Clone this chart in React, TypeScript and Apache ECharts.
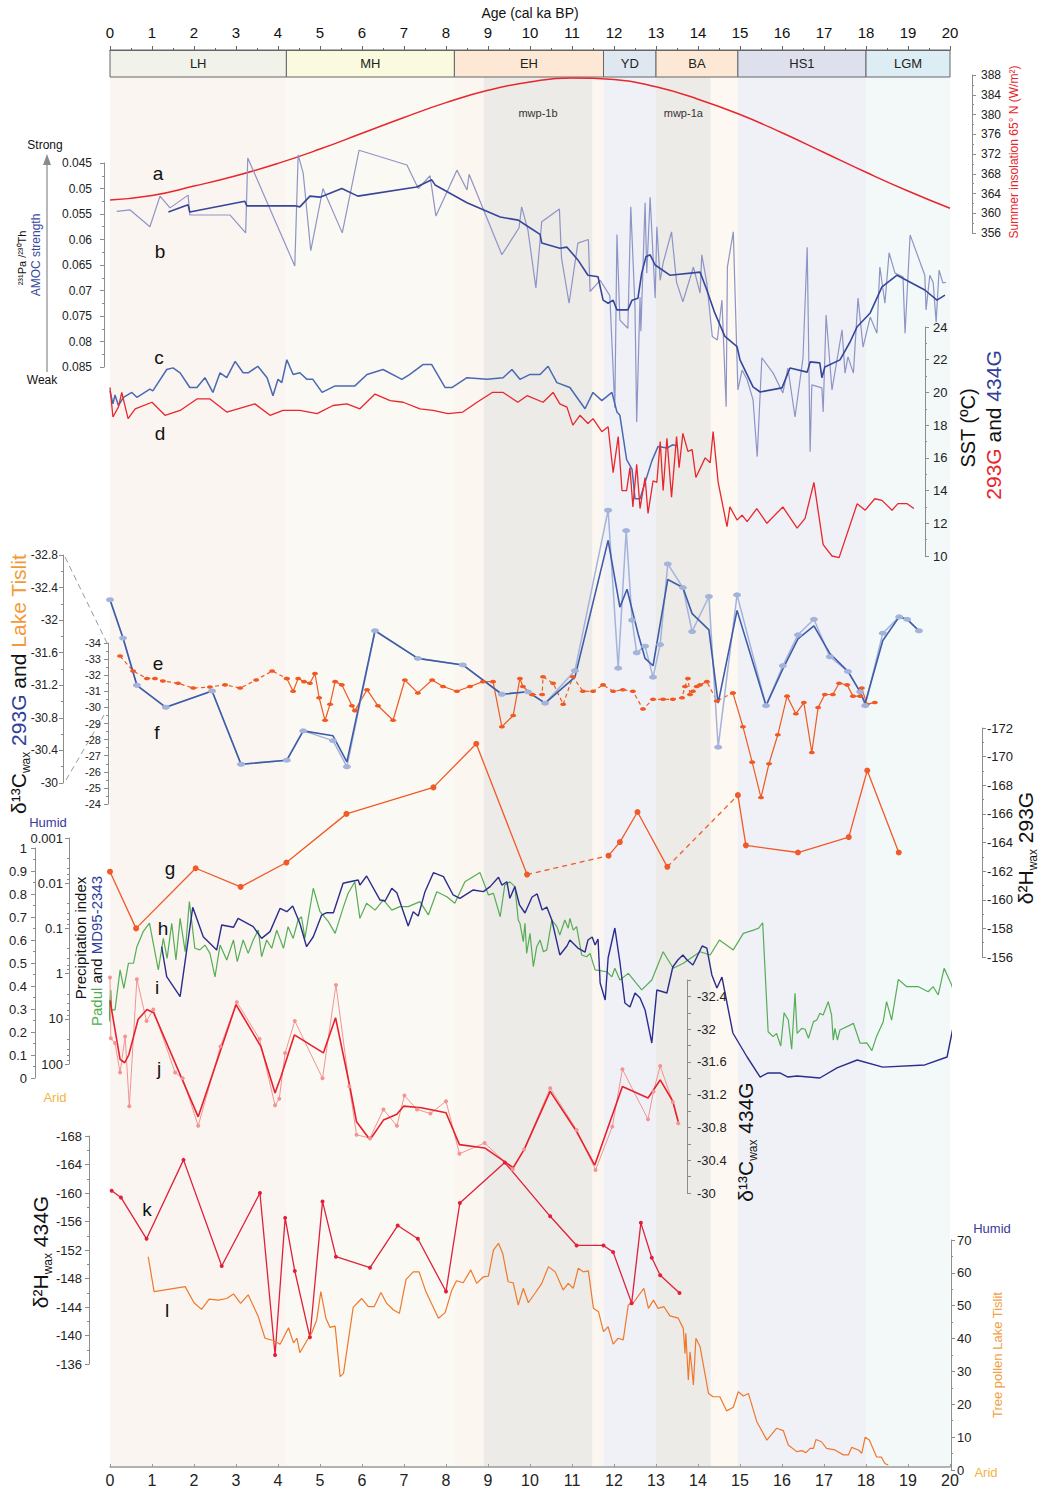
import React, { useEffect, useRef } from "react";
import * as echarts from "echarts";

const FONT = "'Liberation Sans', Arial, Helvetica, sans-serif";

// ---- climatic periods (ka BP) ----
const periodNames = ["LH", "MH", "EH", "YD", "BA", "HS1", "LGM"];
const periodBounds = [0, 4.2, 8.2, 11.75, 13.0, 14.95, 18.0, 20];
const pulseNames = ["mwp-1b", "mwp-1a"];
const pulseSpans = [
  [8.9, 11.48],
  [13.0, 14.3],
];

// a: summer insolation 65°N (W/m²)
const insolation = [
  [0, 362.7], [1, 363.6], [2, 365.5], [3, 367.6], [4, 370.1], [5, 373.0], [6, 376.2], [7, 379.4],
  [8, 382.4], [9, 384.9], [10, 386.6], [11, 387.4], [12, 387.1], [13, 385.6], [14, 383.1],
  [15, 380.0], [16, 376.3], [17, 372.3], [18, 368.3], [19, 364.5], [20, 361.0],
];

// b: 231Pa/230Th, raw record
const paThRaw = [
  [0.16, 0.0545], [0.48, 0.0542], [0.95, 0.0575], [1.19, 0.0515], [1.43, 0.0538], [1.86, 0.0513], [1.9, 0.0552],
  [2.86, 0.0552], [3.23, 0.0587], [3.28, 0.044], [4.4, 0.0652], [4.48, 0.0434], [4.6, 0.047], [4.78, 0.0622],
  [5.07, 0.05], [5.53, 0.0587], [5.93, 0.0425], [7.07, 0.0454], [7.34, 0.05], [7.62, 0.0475], [7.76, 0.0554],
  [8.26, 0.0464], [8.5, 0.0503], [8.55, 0.0472], [9.33, 0.063], [9.74, 0.0577], [9.8, 0.0536], [9.95, 0.0581],
  [10.14, 0.0695], [10.28, 0.0565], [10.7, 0.054], [10.75, 0.0636], [10.93, 0.0725], [11.14, 0.0607], [11.39, 0.06],
  [11.43, 0.0702], [11.67, 0.068], [11.9, 0.071], [12.02, 0.093], [12.07, 0.059], [12.14, 0.0758], [12.33, 0.0774],
  [12.4, 0.0536], [12.5, 0.0734], [12.54, 0.0958], [12.62, 0.0713], [12.64, 0.078], [12.74, 0.0528], [12.78, 0.0666],
  [12.86, 0.0517], [12.98, 0.0715], [13.02, 0.0575], [13.1, 0.068], [13.17, 0.0646], [13.37, 0.0585], [13.49, 0.0684],
  [13.64, 0.0722], [13.89, 0.0654], [14.05, 0.0705], [14.09, 0.063], [14.21, 0.0685], [14.34, 0.079], [14.46, 0.0797],
  [14.57, 0.0719], [14.67, 0.0928], [14.7, 0.0654], [14.84, 0.0585], [14.95, 0.0895], [15.05, 0.0856], [15.17, 0.0875],
  [15.31, 0.0914], [15.41, 0.1026], [15.52, 0.0832], [15.79, 0.0862], [16.02, 0.0901], [16.14, 0.0852], [16.31, 0.0948],
  [16.5, 0.0832], [16.6, 0.0615], [16.67, 0.1016], [16.71, 0.0885], [16.95, 0.0891], [16.98, 0.0938], [17.05, 0.0748],
  [17.19, 0.0895], [17.43, 0.0777], [17.5, 0.0862], [17.57, 0.083], [17.7, 0.0862], [17.81, 0.0715], [17.93, 0.0811],
  [18.1, 0.0752], [18.26, 0.0784], [18.33, 0.0654], [18.45, 0.0725], [18.55, 0.0626], [18.69, 0.0666], [18.88, 0.0673],
  [18.93, 0.0784], [19.05, 0.0591], [19.4, 0.067], [19.43, 0.0738], [19.52, 0.067], [19.6, 0.0685], [19.67, 0.0762],
  [19.74, 0.066], [19.83, 0.0685], [19.9, 0.0684],
];

// b: 231Pa/230Th, smoothed record
const paThSmooth = [
  [1.39, 0.0546], [1.86, 0.0532], [1.9, 0.0546], [3.21, 0.0525], [3.26, 0.0534], [4.4, 0.0534], [4.52, 0.0536],
  [4.76, 0.0515], [5.0, 0.0517], [5.52, 0.05], [5.9, 0.0515], [7.3, 0.0497], [7.66, 0.0483], [7.74, 0.0493],
  [8.5, 0.0528], [9.29, 0.0556], [9.72, 0.0562], [9.96, 0.0575], [10.24, 0.059], [10.28, 0.0607], [10.71, 0.0617],
  [10.88, 0.0615], [11.14, 0.064], [11.38, 0.067], [11.62, 0.0673], [11.74, 0.0719], [11.86, 0.0725], [11.98, 0.0719],
  [12.07, 0.0738], [12.33, 0.0738], [12.43, 0.0719], [12.57, 0.0715], [12.66, 0.0666], [12.76, 0.0634], [12.86, 0.063],
  [12.98, 0.065], [13.33, 0.067], [14.05, 0.0664], [14.21, 0.0699], [14.4, 0.0744], [14.64, 0.079], [14.93, 0.081],
  [15.0, 0.0836], [15.31, 0.0889], [15.48, 0.0899], [16.0, 0.0891], [16.19, 0.0852], [16.6, 0.086], [16.67, 0.084],
  [16.9, 0.0842], [16.95, 0.0871], [17.02, 0.085], [17.38, 0.0836], [17.62, 0.0801], [17.79, 0.0771], [18.1, 0.0744],
  [18.38, 0.0693], [18.74, 0.067], [19.4, 0.0699], [19.69, 0.0719], [19.88, 0.0709],
];

// c: SST 434G (°C)
const sst434 = [
  [0, 20.1], [0.07, 19.3], [0.12, 19.84], [0.2, 19.2], [0.32, 19.7], [0.52, 20.0], [0.64, 19.7], [0.95, 20.2],
  [1.02, 20.1], [1.35, 21.4], [1.5, 21.5], [1.67, 21.2], [1.9, 20.3], [2.07, 20.3], [2.26, 20.9], [2.45, 20.0],
  [2.62, 21.2], [2.78, 20.9], [2.98, 21.9], [3.17, 21.2], [3.29, 21.2], [3.52, 21.6], [3.74, 20.9], [3.88, 19.8],
  [4.0, 20.8], [4.09, 20.6], [4.21, 22.0], [4.36, 21.1], [4.52, 21.2], [4.69, 20.8], [4.83, 20.8], [5.05, 20.0],
  [5.36, 20.4], [5.83, 20.4], [6.12, 21.1], [6.5, 21.4], [6.95, 20.8], [7.14, 21.1], [7.45, 21.7], [7.66, 21.7],
  [7.98, 20.3], [8.14, 20.3], [8.5, 20.9], [8.98, 20.8], [9.36, 20.9], [9.57, 21.4], [9.76, 20.8], [10.0, 21.1],
  [10.24, 21.1], [10.43, 21.6], [10.64, 20.6], [10.95, 20.3], [11.31, 19.0], [11.5, 20.0], [11.71, 19.5],
  [11.95, 20.0], [12.07, 18.8], [12.14, 18.6], [12.3, 15.9], [12.43, 15.3], [12.5, 13.5], [12.62, 13.5],
  [12.74, 14.5], [12.9, 15.8], [13.05, 16.7], [13.26, 16.6], [13.4, 16.8], [13.52, 16.7],
];

// d: SST 293G (°C)
const sst293 = [
  [0, 20.3], [0.07, 18.5], [0.2, 19.1], [0.28, 20.0], [0.43, 18.4], [0.6, 19.0], [1.0, 19.4], [1.31, 18.6],
  [1.67, 18.9], [2.07, 19.6], [2.38, 19.6], [2.78, 18.8], [3.45, 19.3], [3.81, 18.6], [4.12, 18.9], [4.52, 18.9],
  [4.93, 18.7], [5.31, 19.2], [5.64, 19.3], [5.95, 19.0], [6.31, 19.9], [6.67, 19.5], [6.98, 19.4], [7.38, 19.0],
  [7.69, 18.9], [8.05, 18.7], [8.4, 18.8], [8.74, 19.4], [9.1, 20.0], [9.36, 20.0], [9.71, 19.4], [9.93, 19.8],
  [10.31, 19.4], [10.55, 20.0], [10.71, 19.3], [10.88, 19.1], [11.02, 18.0], [11.19, 18.6], [11.38, 18.1],
  [11.5, 18.4], [11.71, 17.6], [11.86, 17.9], [11.98, 15.1], [12.1, 17.3], [12.19, 14.0], [12.3, 14.0],
  [12.38, 15.4], [12.45, 13.0], [12.54, 15.6], [12.62, 12.9], [12.74, 14.8], [12.81, 12.6], [12.93, 14.6],
  [13.02, 14.5], [13.1, 17.0], [13.17, 14.0], [13.26, 17.2], [13.37, 13.6], [13.49, 17.3], [13.55, 15.4],
  [13.64, 17.5], [13.76, 16.4], [13.86, 16.5], [13.95, 14.8], [14.17, 16.0], [14.29, 15.7], [14.36, 17.6],
  [14.48, 14.5], [14.69, 11.8], [14.76, 13.0], [14.93, 12.2], [15.05, 12.5], [15.17, 12.1], [15.4, 12.9],
  [15.64, 12.0], [16.02, 13.0], [16.36, 11.7], [16.55, 12.3], [16.76, 14.5], [16.98, 10.7], [17.19, 10.0],
  [17.36, 9.9], [17.79, 13.2], [17.98, 12.8], [18.21, 13.5], [18.38, 13.4], [18.62, 12.8], [18.76, 13.2],
  [18.98, 13.2], [19.14, 12.9],
];

// e: δ13C Lake Tislit, in four runs (dashed / solid)
const tislitC1 = [
  [0.24, -33.19], [0.55, -32.26], [0.88, -31.8], [1.07, -31.8], [1.26, -31.64], [1.62, -31.5], [1.98, -31.2],
  [2.38, -31.27], [2.74, -31.4], [3.1, -31.2], [3.48, -31.7], [3.86, -32.26], [4.21, -31.8],
];
const tislitC2 = [
  [4.21, -31.8], [4.36, -31.0], [4.48, -31.8], [4.62, -31.6], [4.76, -31.5], [4.88, -32.1], [4.98, -30.6],
  [5.12, -29.2], [5.24, -30.2], [5.36, -31.6], [5.52, -31.4], [5.76, -30.1], [5.83, -29.8], [6.12, -31.1],
  [6.38, -30.1], [6.74, -29.2], [7.02, -31.7], [7.33, -30.9], [7.67, -31.7], [7.93, -31.3], [8.26, -31.0],
  [8.57, -31.3], [8.88, -31.6], [9.12, -31.6], [9.33, -28.8], [9.6, -29.5], [9.76, -31.8], [9.83, -31.3],
  [10.05, -30.8],
];
const tislitC3 = [
  [10.05, -30.8], [10.29, -30.8], [10.31, -31.9], [10.55, -31.5], [10.79, -30.2], [11.02, -31.9], [11.26, -31.0],
  [11.5, -31.0], [11.74, -31.4], [11.98, -31.0], [12.21, -31.1], [12.45, -31.0], [12.69, -29.9], [12.93, -30.5],
  [13.17, -30.5], [13.4, -30.5], [13.62, -30.6], [13.69, -31.3], [13.76, -31.8], [13.81, -30.8], [13.88, -31.0],
  [13.97, -31.3], [14.05, -31.4], [14.21, -31.6], [14.45, -30.4], [14.83, -30.9],
];
const tislitC4 = [
  [14.83, -30.9], [15.07, -28.8], [15.29, -26.6], [15.5, -24.4], [15.69, -26.5], [15.9, -28.3], [16.12, -30.7],
  [16.33, -29.6], [16.52, -30.3], [16.71, -27.2], [16.86, -30.0], [17.02, -30.8], [17.21, -30.8], [17.36, -31.5],
  [17.55, -31.4], [17.69, -30.7], [17.86, -30.7], [17.9, -31.2], [18.02, -30.2], [18.21, -30.3],
];

// f: δ13Cwax 293G, individual measurements and mean
const c293Points = [
  [0, -32.25], [0.31, -31.78], [0.64, -31.2], [1.33, -30.93], [2.43, -31.13], [3.12, -30.23], [4.21, -30.28],
  [4.6, -30.64], [5.31, -30.52], [5.64, -30.2], [6.31, -31.87], [7.33, -31.53], [8.4, -31.45], [9.33, -31.09],
  [9.95, -31.12], [10.36, -30.98], [11.07, -31.38], [11.86, -33.35], [12.1, -31.41], [12.29, -33.1], [12.43, -32.0],
  [12.54, -31.6], [12.74, -31.68], [12.93, -31.3], [13.1, -31.7], [13.28, -32.69], [13.64, -32.4], [13.86, -31.86],
  [14.26, -32.29], [14.48, -30.44], [14.93, -32.31], [15.62, -30.95], [16.02, -31.44], [16.38, -31.82],
  [16.76, -32.01], [17.14, -31.55], [17.57, -31.37], [17.86, -31.12], [17.98, -30.95], [18.4, -31.84],
  [18.79, -32.04], [18.98, -32.01], [19.26, -31.87],
];
const c293Mean = [
  [0, -32.25], [0.31, -31.78], [0.64, -31.2], [1.33, -30.93], [2.43, -31.13], [3.12, -30.23], [4.21, -30.28],
  [4.6, -30.64], [5.31, -30.58], [5.64, -30.26], [6.31, -31.87], [7.33, -31.53], [8.4, -31.45], [9.33, -31.09],
  [9.95, -31.12], [10.36, -30.98], [11.07, -31.3], [11.86, -32.98], [12.14, -32.16], [12.31, -32.38],
  [12.57, -31.84], [12.74, -31.53], [12.93, -31.44], [13.28, -32.5], [13.64, -32.4], [13.86, -32.08],
  [14.26, -31.88], [14.48, -30.98], [14.93, -32.12], [15.62, -30.95], [16.02, -31.4], [16.38, -31.77],
  [16.76, -31.93], [17.14, -31.59], [17.57, -31.37], [17.86, -31.12], [17.98, -30.98], [18.4, -31.75],
  [18.79, -32.04], [18.98, -32.01], [19.26, -31.87],
];

// g: δ2Hwax 293G, runs joined by solid and dashed lines
const h293A = [
  [0, -161.96], [0.62, -158.0], [2.04, -162.2], [3.11, -160.9], [4.2, -162.6], [5.63, -166.0], [7.7, -167.85],
  [8.72, -170.9], [9.93, -161.76],
];
const h293Gap1 = [[9.93, -161.76], [11.87, -163.08]];
const h293B = [[11.87, -163.08], [12.14, -164.03], [12.56, -166.13], [13.27, -162.3]];
const h293Gap2 = [[13.27, -162.3], [14.95, -167.31]];
const h293C = [
  [14.95, -167.31], [15.14, -163.8], [16.38, -163.3], [17.59, -164.38], [18.03, -169.03], [18.78, -163.3],
];

// h: precipitation index MD95-2343 (log scale)
const precipMD = [
  [1.23, 0.254], [1.35, 1.17], [1.67, 3.24], [1.97, 0.0341], [2.22, 0.153], [2.54, 0.301], [2.66, 0.0841],
  [2.94, 0.0946], [3.05, 0.0598], [3.41, 0.0916], [3.61, 0.166], [3.81, 0.118], [4.05, 0.0359], [4.21, 0.0428],
  [4.35, 0.0319], [4.52, 0.0771], [4.68, 0.254], [4.84, 0.153], [5.04, 0.0506], [5.16, 0.045], [5.32, 0.045],
  [5.55, 0.01], [5.71, 0.00927], [5.91, 0.0085], [5.95, 0.011], [6.11, 0.00693], [6.43, 0.0236], [6.55, 0.0248],
  [6.71, 0.013], [6.83, 0.0162], [7.1, 0.0885], [7.22, 0.0428], [7.34, 0.0532], [7.5, 0.0154], [7.7, 0.00586],
  [7.94, 0.00718], [8.17, 0.0182], [8.33, 0.0216], [8.65, 0.0141], [8.89, 0.0154], [9.05, 0.0119], [9.25, 0.0074],
  [9.33, 0.011], [9.45, 0.00927], [9.52, 0.0216], [9.64, 0.0119], [9.75, 0.0303], [9.88, 0.0456], [10.05, 0.0202],
  [10.17, 0.0173], [10.29, 0.0392], [10.4, 0.0337], [10.52, 0.0652], [10.71, 0.387], [10.88, 0.245], [10.95, 0.181],
  [11.14, 0.272], [11.31, 0.333], [11.38, 0.181], [11.48, 0.155], [11.55, 0.233], [11.62, 0.172], [11.67, 1.61],
  [11.79, 3.84], [11.86, 0.452], [12.02, 0.098], [12.14, 0.553], [12.26, 4.47], [12.38, 5.48], [12.5, 2.69],
  [12.62, 3.47], [12.74, 6.38], [12.9, 34.3], [13.02, 2.31], [13.26, 2.69], [13.4, 0.715], [13.52, 0.5],
  [13.64, 0.387], [13.74, 0.5], [13.88, 0.646], [14.1, 0.245], [14.21, 0.272], [14.33, 1.07], [14.45, 2.08],
  [14.57, 1.19], [14.83, 20.6], [15.17, 70], [15.48, 194], [15.67, 158], [15.95, 158], [16.14, 194], [16.36, 184],
  [16.9, 204], [17.31, 122], [17.79, 81.6], [18.4, 117], [19.4, 105], [19.93, 70], [20.6, 0.0589],
];

// i: Padul precipitation index (0-1)
const precipPadul = [
  [-0.1, 0.462], [-0.07, 0.33], [-0.04, 0.426], [-0.02, 0.245], [0.02, 0.383], [0.04, 0.296], [0.12, 0.296],
  [0.24, 0.47], [0.33, 0.39], [0.44, 0.499], [0.56, 0.499], [0.64, 0.571], [0.79, 0.636], [0.94, 0.673],
  [1.15, 0.47], [1.27, 0.607], [1.36, 0.52], [1.47, 0.673], [1.57, 0.513], [1.67, 0.694], [1.79, 0.549],
  [1.89, 0.767], [2.02, 0.564], [2.14, 0.557], [2.26, 0.578], [2.38, 0.542], [2.5, 0.44], [2.62, 0.578],
  [2.78, 0.513], [2.94, 0.6], [3.03, 0.506], [3.17, 0.6], [3.29, 0.542], [3.41, 0.6], [3.53, 0.643], [3.61, 0.527],
  [3.73, 0.6], [3.85, 0.564], [3.97, 0.643], [4.13, 0.564], [4.24, 0.658], [4.36, 0.607], [4.48, 0.687],
  [4.56, 0.701], [4.64, 0.607], [4.84, 0.825], [5.0, 0.723], [5.2, 0.68], [5.36, 0.629], [5.56, 0.745],
  [5.67, 0.803], [5.83, 0.853], [5.95, 0.694], [6.11, 0.76], [6.31, 0.73], [6.51, 0.774], [6.71, 0.73],
  [6.9, 0.745], [7.1, 0.745], [7.38, 0.767], [7.58, 0.709], [7.78, 0.81], [8.02, 0.788], [8.21, 0.76],
  [8.45, 0.853], [8.81, 0.893], [9.01, 0.796], [9.13, 0.803], [9.29, 0.701], [9.4, 0.839], [9.52, 0.853],
  [9.64, 0.832], [9.72, 0.687], [9.76, 0.673], [9.84, 0.593], [9.88, 0.673], [9.92, 0.542], [10.0, 0.629],
  [10.08, 0.484], [10.16, 0.571], [10.24, 0.6], [10.32, 0.549], [10.4, 0.557], [10.52, 0.687], [10.64, 0.658],
  [10.71, 0.622], [10.83, 0.687], [10.91, 0.651], [10.95, 0.694], [11.03, 0.643], [11.11, 0.658], [11.23, 0.535],
  [11.35, 0.527], [11.43, 0.542], [11.55, 0.47], [11.83, 0.462], [11.95, 0.44], [12.02, 0.477], [12.14, 0.426],
  [12.34, 0.455], [12.66, 0.383], [12.9, 0.426], [13.17, 0.549], [13.41, 0.477], [13.65, 0.499], [14.05, 0.549],
  [14.29, 0.535], [14.51, 0.6], [14.84, 0.557], [15.08, 0.629], [15.32, 0.643], [15.44, 0.651], [15.54, 0.675],
  [15.67, 0.201], [15.79, 0.18], [15.87, 0.194], [15.97, 0.139], [16.05, 0.284], [16.15, 0.252], [16.23, 0.125],
  [16.31, 0.368], [16.36, 0.194], [16.47, 0.216], [16.55, 0.212], [16.63, 0.173], [16.75, 0.245], [16.83, 0.252],
  [16.9, 0.281], [16.98, 0.274], [17.1, 0.332], [17.18, 0.274], [17.22, 0.165], [17.26, 0.216], [17.32, 0.165],
  [17.38, 0.209], [17.62, 0.23], [17.7, 0.238], [17.86, 0.151], [18.02, 0.153], [18.14, 0.119], [18.25, 0.18],
  [18.41, 0.245], [18.49, 0.332], [18.61, 0.252], [18.77, 0.429], [18.97, 0.397], [19.25, 0.397], [19.48, 0.375],
  [19.6, 0.397], [19.72, 0.361], [19.86, 0.477], [20.04, 0.404], [20.16, 0.325], [20.25, 0.371], [20.33, 0.288],
];

// j: δ13Cwax 434G, mean and individual measurements
const c434Mean = [
  [0, -32.35], [0.24, -31.63], [0.35, -31.59], [0.45, -31.69], [0.67, -32.12], [0.88, -32.24], [1.04, -32.2],
  [2.1, -30.93], [3.0, -32.3], [3.59, -31.79], [3.93, -31.22], [4.07, -31.42], [4.39, -31.93], [5.08, -31.71],
  [5.37, -32.14], [5.71, -31.3], [5.87, -30.87], [6.19, -30.65], [6.51, -30.89], [6.83, -30.96], [6.99, -31.06],
  [7.41, -31.04], [8.0, -30.98], [8.32, -30.59], [8.92, -30.55], [9.6, -30.31], [9.86, -30.53], [10.48, -31.24],
  [11.11, -30.75], [11.54, -30.34], [12.2, -31.3], [12.81, -31.16], [13.1, -31.38], [13.4, -31.12], [13.53, -30.87],
];
const c434Points = [
  [0, -32.63], [0.02, -31.89], [0.12, -31.83], [0.24, -31.47], [0.36, -31.91], [0.46, -31.06], [0.64, -32.61],
  [0.87, -32.1], [1.03, -32.24], [1.55, -31.47], [1.73, -31.4], [2.1, -30.82], [2.63, -31.79], [3.02, -32.33],
  [3.56, -31.88], [3.93, -31.07], [4.03, -31.15], [4.17, -31.71], [4.4, -32.1], [5.06, -31.4], [5.38, -32.54],
  [5.7, -31.3], [5.87, -30.71], [6.19, -30.67], [6.51, -31.02], [6.83, -30.82], [7.01, -31.19], [7.31, -31.02],
  [7.63, -30.97], [8.0, -31.12], [8.32, -30.48], [8.92, -30.61], [9.59, -30.29], [9.86, -30.53], [10.48, -31.28],
  [11.11, -30.77], [11.56, -30.28], [11.96, -30.81], [12.2, -31.51], [12.81, -30.9], [12.94, -31.24], [13.1, -31.55],
  [13.4, -31.11], [13.53, -30.85],
];

// k: δ2Hwax 434G
const h434 = [
  [0.04, -160.32], [0.26, -159.38], [0.87, -153.57], [1.75, -164.65], [2.66, -149.75], [3.57, -160.0],
  [3.93, -137.27], [4.17, -156.51], [4.4, -149.05], [4.76, -139.75], [5.06, -158.82], [5.38, -151.06],
  [6.19, -149.52], [6.85, -155.43], [7.33, -153.57], [8.0, -146.17], [8.33, -158.6], [9.4, -164.27],
  [10.48, -156.73], [11.11, -152.64], [11.75, -152.64], [11.98, -151.7], [12.42, -144.54], [12.64, -155.81],
  [12.9, -150.92], [13.1, -148.45], [13.56, -145.97],
];

// l: tree pollen Lake Tislit (%)
const treePollen = [
  [0.91, 64.9], [1.05, 54.3], [1.79, 55.8], [2.0, 50.9], [2.18, 48.9], [2.36, 52.0], [2.58, 51.7], [2.78, 52.2],
  [2.94, 53.6], [3.11, 50.7], [3.29, 53.3], [3.53, 46.7], [3.69, 40.1], [3.89, 39.4], [4.05, 38.3], [4.25, 43.3],
  [4.37, 38.7], [4.45, 40.1], [4.52, 35.7], [4.72, 40.1], [4.8, 41.6], [4.92, 45.6], [5.02, 54.3], [5.14, 46.2],
  [5.24, 43.4], [5.36, 43.8], [5.48, 28.4], [5.56, 29.4], [5.79, 49.5], [5.99, 52.2], [6.15, 49.7], [6.29, 49.7],
  [6.45, 54.0], [6.59, 50.7], [6.75, 48.7], [6.89, 47.7], [7.05, 58.0], [7.22, 60.3], [7.36, 60.3], [7.52, 54.3],
  [7.82, 46.2], [7.98, 47.9], [8.14, 54.8], [8.25, 57.6], [8.41, 57.0], [8.59, 60.9], [8.73, 56.8], [8.89, 58.8],
  [9.01, 59.0], [9.13, 66.9], [9.25, 69.0], [9.35, 65.9], [9.48, 57.3], [9.6, 57.0], [9.72, 50.2], [9.84, 55.3],
  [9.96, 50.9], [10.12, 53.8], [10.28, 56.8], [10.44, 61.9], [10.6, 60.3], [10.79, 54.8], [10.91, 56.8],
  [11.03, 55.3], [11.15, 61.4], [11.27, 60.3], [11.39, 60.6], [11.51, 49.2], [11.63, 48.2], [11.75, 42.1],
  [11.86, 43.6], [11.98, 38.3], [12.1, 40.1], [12.22, 39.6], [12.34, 50.2], [12.46, 50.9], [12.71, 55.3],
  [12.82, 49.2], [12.94, 51.7], [13.05, 49.2], [13.19, 49.7], [13.33, 46.9], [13.53, 46.2], [13.65, 43.1],
  [13.69, 35.5], [13.71, 41.6], [13.77, 27.4], [13.81, 36.0], [13.85, 31.4], [13.89, 25.9], [13.95, 40.1],
  [14.05, 37.5], [14.25, 23.3], [14.36, 22.3], [14.52, 22.3], [14.68, 18.0], [14.84, 19.1], [14.96, 23.8],
  [15.08, 22.5], [15.2, 23.3], [15.4, 14.7], [15.64, 9.1], [15.87, 12.7], [16.03, 12.0], [16.15, 7.6],
  [16.35, 5.6], [16.47, 5.9], [16.57, 5.3], [16.67, 6.6], [16.75, 6.6], [16.81, 9.3], [16.94, 8.6], [17.06, 6.6],
  [17.26, 6.1], [17.46, 4.6], [17.58, 4.6], [17.66, 6.9], [17.82, 6.1], [17.9, 5.1], [17.98, 10.0], [18.08, 9.1],
  [18.25, 4.0], [18.37, 3.9], [18.45, 2.0], [18.53, 1.5],
];

// ---- styling ----
const headFill = ["#f1f2e9", "#fafadf", "#fde8d5", "#dfe7f1", "#fde8d5", "#dfe0ee", "#dcedf4"];
const bandFill = ["#faf5f0", "#fbf9f3", "#fbf6f0", "#eff1f7", "#fdf8f1", "#f0f1f7", "#f3f8f9"];
const PLOT_LEFT = 110;
const PLOT_W = 840;
const AXIS_GREY = "#8c8c8c";

function buildOption() {
  const grids: any[] = [];
  const xAxes: any[] = [];
  const yAxes: any[] = [];

  const addGrid = (top: number, height: number, yAxis: any, left = PLOT_LEFT, width = PLOT_W, xAxis: any = {}) => {
    const idx = grids.length;
    grids.push({ left, top, width, height });
    xAxes.push({ type: "value", gridIndex: idx, min: 0, max: 20, show: false, ...xAxis });
    yAxes.push({ gridIndex: idx, z: 10, splitLine: { show: false }, ...yAxis });
    return idx;
  };

  const axisLook = (margin: number, fontSize = 12) => ({
    show: true,
    axisLine: { show: true, onZero: false, lineStyle: { color: AXIS_GREY, width: 1 } },
    axisTick: { show: true, length: 4, lineStyle: { color: AXIS_GREY, width: 1 } },
    minorTick: { show: true, splitNumber: 2, length: 2, lineStyle: { color: AXIS_GREY, width: 1 } },
    axisLabel: { color: "#222", fontSize, fontFamily: FONT, margin },
    splitLine: { show: false },
  });

  // background bands + bottom age axis
  const gBg = addGrid(77, 1392, { type: "value", min: 0, max: 1, show: false }, PLOT_LEFT, PLOT_W, {
    show: true,
    position: "bottom",
    interval: 1,
    z: 10,
    axisLine: { show: true, onZero: false, lineStyle: { color: "#9a9a9a", width: 1.5 } },
    axisTick: { show: true, inside: true, length: 3, lineStyle: { color: "#9a9a9a" } },
    axisLabel: { color: "#222", fontSize: 16, fontFamily: FONT, margin: 5 },
    splitLine: { show: false },
  });
  // header boxes + top age axis
  const gHead = addGrid(50, 27, { type: "value", min: 0, max: 1, show: false }, PLOT_LEFT, PLOT_W, {
    show: true,
    position: "top",
    interval: 1,
    z: 10,
    name: "Age (cal ka BP)",
    nameLocation: "middle",
    nameGap: 30,
    nameTextStyle: { color: "#111", fontSize: 14, fontFamily: FONT },
    axisLine: { show: true, onZero: false, lineStyle: { color: "#666", width: 1 } },
    axisTick: { show: true, length: 4, lineStyle: { color: "#666" } },
    minorTick: { show: true, splitNumber: 2, length: 2, lineStyle: { color: "#666" } },
    axisLabel: { color: "#111", fontSize: 15, fontFamily: FONT, margin: 10 },
    splitLine: { show: false },
  });

  const gA = addGrid(75, 158, { type: "value", min: 356, max: 388, interval: 4, position: "right", offset: 22, ...axisLook(9, 12) });
  const gB = addGrid(163, 204, { type: "value", min: 0.045, max: 0.085, interval: 0.005, inverse: true, position: "left", offset: 6, ...axisLook(12, 12) });
  const gCD = addGrid(327, 229, { type: "value", min: 10, max: 24, show: false });
  const gCDAxis = addGrid(327, 229, { type: "value", min: 10, max: 24, interval: 2, position: "right", ...axisLook(8, 13) }, PLOT_LEFT, 815);
  const gF = addGrid(555, 228, { type: "value", min: -32.8, max: -30, interval: 0.4, inverse: true, position: "left", offset: 47, ...axisLook(5, 12) });
  const gE = addGrid(643, 161, { type: "value", min: -34, max: -24, interval: 1, inverse: true, position: "left", offset: 2, ...axisLook(7, 11) });
  const gG = addGrid(728, 229, { type: "value", min: -172, max: -156, interval: 2, inverse: true, position: "right", offset: 32, ...axisLook(5, 13) });
  const logLook = axisLook(6, 13);
  const gH = addGrid(838, 226, {
    type: "log", logBase: 10, min: 0.001, max: 100, inverse: true, position: "left", offset: 41,
    ...logLook,
    minorTick: { show: true, splitNumber: 5, length: 2, lineStyle: { color: AXIS_GREY } },
    axisLabel: { ...logLook.axisLabel, formatter: (v: number) => String(Number(v.toPrecision(2))) },
  });
  const gI = addGrid(848, 230, { type: "value", min: 0, max: 1, interval: 0.1, position: "left", offset: 75, ...axisLook(8, 13) });
  const jLook = axisLook(10, 13);
  const gJ = addGrid(980, 213, { type: "value", min: -32.6, max: -30, inverse: true, show: false });
  const gJAxis = addGrid(980, 213, {
    type: "value", min: -32.6, max: -30, interval: 0.2, inverse: true, position: "right",
    ...jLook,
    minorTick: { show: false },
    axisLabel: {
      ...jLook.axisLabel,
      formatter: (v: number) => {
        const t = Math.round(v * 10);
        return t % 4 === 0 ? String(t / 10) : "";
      },
    },
  }, PLOT_LEFT, 577);
  const gK = addGrid(1136, 228, { type: "value", min: -168, max: -136, interval: 4, inverse: true, position: "left", offset: 21, ...axisLook(7, 13) });
  const gL = addGrid(1240, 230, { type: "value", min: 0, max: 70, interval: 10, position: "right", offset: 1, ...axisLook(6, 13) });

  const line = (g: number, data: number[][], color: string, width: number, extra: any = {}) => ({
    type: "line",
    xAxisIndex: g,
    yAxisIndex: g,
    data,
    symbol: "none",
    showSymbol: false,
    clip: false,
    silent: true,
    lineStyle: { color, width, ...(extra.lineStyle || {}) },
    itemStyle: { color },
    z: 5,
    ...Object.fromEntries(Object.entries(extra).filter(([k]) => k !== "lineStyle")),
  });
  const dots = (size: any) => ({ symbol: "circle", showSymbol: true, symbolSize: size });
  // an invisible series so that an axis-only grid gets drawn
  const holder = (g: number, v: number) => ({
    type: "line", xAxisIndex: g, yAxisIndex: g, data: [[0, v]], symbol: "none", silent: true, lineStyle: { opacity: 0 },
  });

  const series: any[] = [
    {
      type: "line",
      xAxisIndex: gBg,
      yAxisIndex: gBg,
      data: [[0, -5]],
      symbol: "none",
      silent: true,
      z: 0,
      lineStyle: { opacity: 0 },
      markArea: {
        silent: true,
        data: periodNames.map((_, i) => [
          { xAxis: periodBounds[i], itemStyle: { color: bandFill[i] }, label: { show: false } },
          { xAxis: periodBounds[i + 1] },
        ]),
      },
    },
    {
      type: "line",
      xAxisIndex: gBg,
      yAxisIndex: gBg,
      data: [[0, -5]],
      symbol: "none",
      silent: true,
      z: 1,
      lineStyle: { opacity: 0 },
      markArea: {
        silent: true,
        data: pulseNames.map((n, i) => [
          {
            xAxis: pulseSpans[i][0],
            name: n,
            itemStyle: { color: "#ecebe8" },
            label: { show: true, position: "insideTop", distance: 30, color: "#333", fontSize: 11, fontFamily: FONT },
          },
          { xAxis: pulseSpans[i][1] },
        ]),
      },
    },
    {
      type: "line",
      xAxisIndex: gHead,
      yAxisIndex: gHead,
      data: [[0, -5]],
      symbol: "none",
      silent: true,
      lineStyle: { opacity: 0 },
      markArea: {
        silent: true,
        data: periodNames.map((n, i) => [
          {
            xAxis: periodBounds[i],
            name: n,
            itemStyle: { color: headFill[i], borderColor: "#666", borderWidth: 1 },
            label: { show: true, position: "inside", color: "#222", fontSize: 13, fontFamily: FONT },
          },
          { xAxis: periodBounds[i + 1] },
        ]),
      },
    },
    holder(gCDAxis, 10),
    holder(gJAxis, -30),
    line(gA, insolation, "#e8262c", 1.5, { smooth: true }),
    line(gB, paThRaw, "#8e94c6", 1.2),
    line(gB, paThSmooth, "#36469a", 1.6),
    line(gCD, sst434, "#4a69b3", 1.5),
    line(gCD, sst293, "#e8262c", 1.3),
    line(gE, tislitC1, "#f05a22", 1.2, { ...dots([6, 3.5]), lineStyle: { type: [4, 3] } }),
    line(gE, tislitC2, "#f05a22", 1.2, dots([6, 3.5])),
    line(gE, tislitC3, "#f05a22", 1.2, { ...dots([6, 3.5]), lineStyle: { type: [4, 3] } }),
    line(gE, tislitC4, "#f05a22", 1.2, dots([6, 3.5])),
    line(gF, c293Points, "#a3b3da", 1.5, dots([8, 5])),
    line(gF, c293Mean, "#3e5ca8", 1.6),
    line(gG, h293A, "#f05a28", 1.3, dots(6)),
    line(gG, h293Gap1, "#f05a28", 1.3, { lineStyle: { type: [5, 4] } }),
    line(gG, h293B, "#f05a28", 1.3, dots(6)),
    line(gG, h293Gap2, "#f05a28", 1.3, { lineStyle: { type: [5, 4] } }),
    line(gG, h293C, "#f05a28", 1.3, dots(6)),
    line(gI, precipPadul, "#55ad55", 1.2),
    line(gH, precipMD, "#2b2d8c", 1.4),
    line(gJ, c434Points, "#f29494", 1, dots(4)),
    line(gJ, c434Mean, "#e8202c", 1.6),
    line(gK, h434, "#e0203a", 1.3, dots(4)),
    line(gL, treePollen, "#f0782c", 1.2),
  ];

  const text = (x: number, y: number, t: string, o: any = {}) => ({
    type: "text",
    x,
    y,
    rotation: o.rot ?? 0,
    silent: true,
    z: 100,
    style: {
      text: t,
      fill: o.color ?? "#111",
      fontSize: o.size ?? 12,
      fontFamily: FONT,
      textAlign: "center",
      textVerticalAlign: "middle",
      align: "center",
      verticalAlign: "middle",
      rich: o.rich,
    },
  });
  const R = Math.PI / 2;
  const bigRich = (size: number) => ({
    n: { fontSize: size, fontFamily: FONT, fill: "#111", color: "#111", lineHeight: size + 6 },
    s: { fontSize: Math.round(size * 0.55), fontFamily: FONT, fill: "#111", color: "#111", verticalAlign: "bottom", lineHeight: size + 6 },
    b: { fontSize: size, fontFamily: FONT, fill: "#2e3e9c", color: "#2e3e9c", lineHeight: size + 6 },
    r: { fontSize: size, fontFamily: FONT, fill: "#e8262c", color: "#e8262c", lineHeight: size + 6 },
    o: { fontSize: size, fontFamily: FONT, fill: "#f39a36", color: "#f39a36", lineHeight: size + 6 },
    g: { fontSize: size, fontFamily: FONT, fill: "#4fae4f", color: "#4fae4f", lineHeight: size + 6 },
  });

  const graphic: any[] = [
    // panel letters
    ...[
      ["a", 158, 173], ["b", 160, 251], ["c", 159, 357], ["d", 160, 433], ["e", 158, 663], ["f", 157, 732],
      ["g", 170, 868], ["h", 163, 928], ["i", 157, 987], ["j", 159, 1068], ["k", 147, 1209], ["l", 167, 1310],
    ].map(([t, x, y]) => text(x as number, y as number, t as string, { size: 19 })),
    // AMOC strength arrow
    { type: "line", silent: true, shape: { x1: 47, y1: 372, x2: 47, y2: 162 }, style: { stroke: "#8a8a8a", lineWidth: 1.2 } },
    { type: "polygon", silent: true, shape: { points: [[43, 165], [51, 165], [47, 154]] }, style: { fill: "#8a8a8a" } },
    text(45, 145, "Strong", { size: 12 }),
    text(42, 380, "Weak", { size: 12 }),
    text(22, 258, "²³¹Pa /²³⁰Th", { rot: R, size: 11 }),
    text(36, 255, "AMOC strength", { rot: R, size: 12, color: "#3a4aa0" }),
    text(1014, 152, "Summer insolation 65° N (W/m²)", { rot: R, size: 12, color: "#e8262c" }),
    text(968, 428, "SST (ºC)", { rot: R, size: 20 }),
    text(993, 425, "{r|293G}{n| and }{b|434G}", { rot: R, rich: bigRich(21) }),
    text(18, 684, "{n|δ¹³C}{s|wax}{n| }{b|293G}{n| and }{o|Lake Tislit}", { rot: R, rich: bigRich(21) }),
    { type: "line", silent: true, shape: { x1: 65, y1: 557, x2: 108, y2: 645 }, style: { stroke: "#9a9a9a", lineWidth: 1, lineDash: [6, 4] } },
    { type: "line", silent: true, shape: { x1: 66, y1: 780, x2: 104, y2: 715 }, style: { stroke: "#9a9a9a", lineWidth: 1, lineDash: [6, 4] } },
    text(1025, 848, "{n|δ²H}{s|wax}{n| 293G}", { rot: R, rich: bigRich(21) }),
    text(48, 822, "Humid", { size: 13, color: "#3a3a9a" }),
    text(55, 1097, "Arid", { size: 13, color: "#f2b440" }),
    text(80, 938, "Precipitation index", { rot: R, size: 15 }),
    text(96, 951, "{g|Padul}{n| and }{b|MD95-2343}", { rot: R, rich: bigRich(15) }),
    text(745, 1142, "{n|δ¹³C}{s|wax}{n| 434G}", { rot: R, rich: bigRich(21) }),
    text(40, 1252, "{n|δ²H}{s|wax}{n| 434G}", { rot: R, rich: bigRich(21) }),
    text(997, 1355, "Tree pollen Lake Tislit", { rot: R, size: 13, color: "#f2a044" }),
    text(992, 1228, "Humid", { size: 13, color: "#3a3a9a" }),
    text(986, 1472, "Arid", { size: 13, color: "#f2b440" }),
  ];

  return {
    animation: false,
    backgroundColor: "#ffffff",
    grid: grids,
    xAxis: xAxes,
    yAxis: yAxes,
    series,
    graphic: { elements: graphic },
  };
}

export default function App() {
  const ref = useRef<HTMLDivElement>(null);
  useEffect(() => {
    if (!ref.current) return;
    const chart = echarts.init(ref.current, null, { renderer: "svg" });
    chart.setOption(buildOption() as any);
    return () => chart.dispose();
  }, []);
  return <div ref={ref} style={{ position: "absolute", left: 0, top: 0, width: 1038, height: 1488 }} />;
}
